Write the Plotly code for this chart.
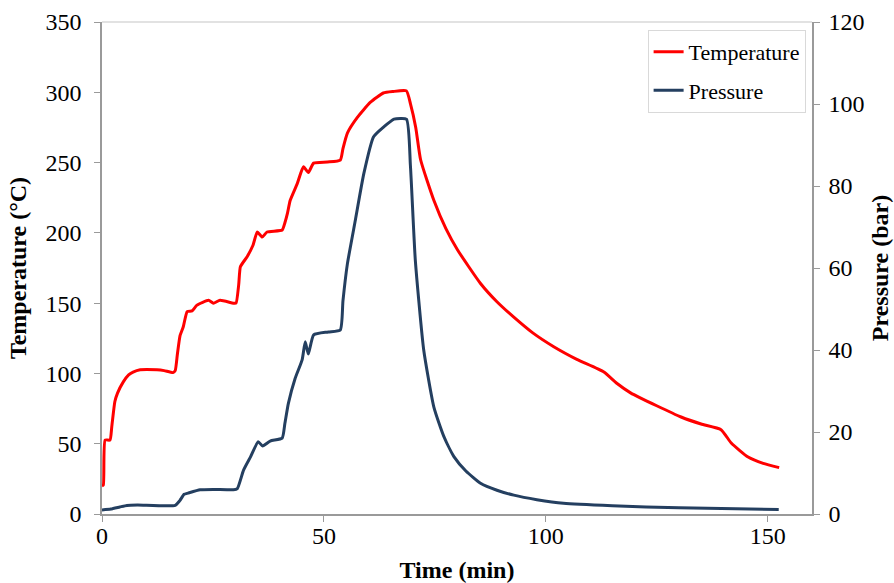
import plotly.graph_objects as go

# Temperature series (time in min, temperature in °C)
temp_time = [0, 0.3, 0.7, 1.8, 2.2, 2.9, 3.5, 4.8, 6.0, 7.0, 8.6, 12.4, 14.0, 16.0, 16.5, 17.0,
             17.6, 18.3, 19.2, 20.3, 21.4, 24.0, 25.1, 26.6, 29.6, 30.2, 30.8, 31.2, 32.7, 34.0,
             35.0, 36.1, 37.2, 40.6, 41.2, 41.8, 42.4, 44.0, 45.4, 46.5, 47.7, 50.8, 53.7, 54.3,
             55.3, 57.5, 60.5, 63.4, 65.5, 68.6, 69.5, 70.7, 71.8, 74.8, 77.5, 80.1, 85.3, 89.0,
             92.8, 97.0, 101.8, 107.0, 113.1, 116.0, 119.2, 125.0, 130.5, 135.0, 139.5, 141.8,
             145.6, 149.0, 152.6]
temp_vals = [20, 20.6, 52.6, 52.6, 62, 80, 86, 94, 99, 101, 102.6, 102.6, 102, 100.6, 102, 114,
             127, 133, 144, 144.5, 148.6, 152, 150, 152, 150, 150, 163, 176, 183, 191,
             200.6, 197, 200.6, 202, 207, 214, 223, 235, 247, 243, 249.6, 250.4, 251.8, 260,
             271, 282, 293, 299.5, 300.5, 301, 292, 275, 252, 223, 203, 188, 164, 151,
             140, 129, 119, 110, 101, 93, 86, 77, 69, 64, 60, 50.5,
             40.5, 36, 33]

# Pressure series (time in min, pressure in bar)
pres_time = [0, 2, 4, 5.6, 8, 16.5, 17.5, 18.5, 19.4, 22.1, 25, 29.6, 30.5, 31.9, 33.5, 35.2,
             36.2, 37.9, 40.6, 41.2, 42.0, 43.5, 45.1, 45.8, 46.5, 47.7, 51.0, 53.7, 54.3, 55.3,
             57.1, 59.0, 61.2, 63.5, 65.8, 68.6, 69.5, 70.6, 72.5, 74.8, 77.0, 79.3, 82.0, 85.3,
             89.0, 92.8, 98.0, 104.0, 115.0, 130.0, 152.5]
pres_vals = [1.0, 1.2, 1.7, 2.1, 2.2, 2.1, 3.2, 4.8, 5.1, 5.9, 6.0, 5.9, 6.2, 10.7, 14, 17.6,
             16.6, 17.8, 18.5, 22, 27, 33, 37.6, 42, 39, 43.7, 44.4, 44.9, 52, 61,
             71.7, 83, 92, 94.4, 96.3, 96.3, 85, 62, 40, 26, 19, 14, 10.5, 7.5,
             5.8, 4.6, 3.5, 2.6, 2.0, 1.5, 1.1]

x_ticks = [0, 50, 100, 150]
y1_ticks = [0, 50, 100, 150, 200, 250, 300, 350]
y2_ticks = [0, 20, 40, 60, 80, 100, 120]

RED = "#FF0000"
NAVY = "#243F60"
AXIS = "#9A9A9A"
FONT = "Liberation Serif"

fig = go.Figure()
fig.add_trace(go.Scatter(x=temp_time, y=temp_vals, mode="lines", name="Temperature",
                         line=dict(color=RED, width=3, shape="spline", smoothing=0.5),
                         yaxis="y", legendgroup="t"))
fig.add_trace(go.Scatter(x=pres_time, y=pres_vals, mode="lines", name="Pressure",
                         line=dict(color=NAVY, width=3, shape="spline", smoothing=0.5),
                         yaxis="y2", legendgroup="p"))

tickfont = dict(family=FONT, size=24, color="#000000")
titlefont = dict(family=FONT, size=24, color="#000000", weight="bold")

fig.update_layout(
    width=894, height=583,
    margin=dict(l=102, r=82, t=22, b=69),
    paper_bgcolor="white", plot_bgcolor="white",
    font=dict(family=FONT, color="#000000"),
    xaxis=dict(range=[0, 160], tickvals=x_ticks, showgrid=False, zeroline=False,
               showline=True, linecolor=AXIS, linewidth=1.5, ticks="outside", ticklen=6,
               tickcolor=AXIS, tickfont=tickfont, automargin=False, ticklabelstandoff=-7,
               title=dict(text="Time (min)", font=titlefont, standoff=17)),
    yaxis=dict(range=[0, 350], tickvals=y1_ticks, showgrid=False, zeroline=False,
               showline=True, linecolor=AXIS, linewidth=1.5, ticks="outside", ticklen=6,
               tickcolor=AXIS, tickfont=tickfont, ticklabelstandoff=8, automargin=False,
               title=dict(text="Temperature (°C)", font=titlefont, standoff=12)),
    yaxis2=dict(range=[0, 120], tickvals=y2_ticks, overlaying="y", side="right",
                showgrid=False, zeroline=False, showline=True, linecolor=AXIS, linewidth=1.5,
                ticks="outside", ticklen=6, tickcolor=AXIS, tickfont=tickfont,
                ticklabelstandoff=4, automargin=False,
                title=dict(text="Pressure (bar)", font=titlefont, standoff=8)),
    legend=dict(x=0.991, y=0.984, xanchor="right", yanchor="top",
                bgcolor="white", bordercolor="#D9D9D9", borderwidth=1,
                font=dict(family=FONT, size=22, color="#000000"),
                tracegroupgap=7, itemwidth=30),
    showlegend=True,
)

# light top border of plot area
fig.add_shape(type="line", xref="paper", yref="paper", x0=0, x1=1, y0=1, y1=1,
              line=dict(color="#D9D9D9", width=1.5))

fig.write_html("out.html")
